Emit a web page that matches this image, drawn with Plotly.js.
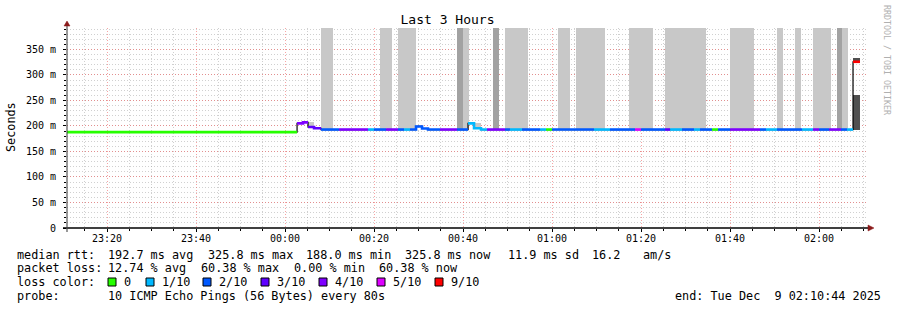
<!DOCTYPE html>
<html><head><meta charset="utf-8">
<script src="https://cdn.plot.ly/plotly-3.0.1.min.js"></script>
<style>html,body{margin:0;padding:0;background:#fff}#chart{width:897px;height:310px}</style>
</head><body><div id="chart"></div>
<script>
// ---------------- data ----------------
const lossLabels = ['0', '1/10', '2/10', '3/10', '4/10', '5/10', '9/10'];
const lossColors = ['#26ff00', '#00b8ff', '#0059ff', '#5e00ff', '#7e00ff', '#dd00ff', '#ff0000'];

// median rtt, step segments; times in minutes relative to 2025-12-09 00:00
const medTime = [-49.0, 2.70, 4.04, 5.17, 6.52, 8.09, 12.13, 18.65, 20.00, 22.70,
  25.39, 26.74, 28.09, 29.44, 30.79, 32.13, 34.83, 38.65, 41.12, 42.47,
  44.04, 45.39, 49.44, 50.56, 53.26, 57.30, 58.65, 60.00, 69.44, 73.03,
  78.65, 80.00, 85.39, 86.52, 89.21, 91.91, 93.26, 95.96, 97.30, 100.00,
  106.74, 108.09, 110.56, 116.18, 118.65, 120.00, 122.25, 124.94, 126.29, 127.64,
  129.21];
const medRtt = [188.0, 205.0, 207.0, 198.0, 195.5, 193.0, 193.0, 193.0, 193.0, 193.0,
  193.0, 193.0, 193.0, 199.0, 195.0, 193.0, 193.0, 193.0, 205.0, 195.5,
  193.0, 193.0, 193.0, 193.0, 193.0, 193.0, 193.0, 193.0, 193.0, 193.0,
  193.0, 193.0, 193.0, 193.0, 193.0, 193.0, 193.0, 193.0, 193.0, 193.0,
  193.0, 193.0, 193.0, 193.0, 193.0, 193.0, 193.0, 193.0, 193.0, 325.8];
const medLoss = [0, 4, 4, 3, 3, 2, 4, 1, 2, 4,
  2, 1, 2, 2, 2, 2, 4, 2, 1, 1,
  1, 4, 2, 1, 2, 1, 0, 2, 1, 2,
  5, 2, 3, 1, 2, 1, 2, 0, 2, 4,
  2, 1, 2, 1, 4, 2, 4, 2, 1, 6];

// smoke (spread of the pings), minutes / ms
const smokeStart = [5.17, 8.09, 21.35, 25.39, 38.65, 40.00, 42.47, 46.67, 49.44, 61.35,
  65.39, 77.30, 85.39, 100.00, 110.56, 114.61, 118.65, 124.04, 125.17, 127.64, 127.64];
const smokeEnd = [6.52, 10.79, 24.04, 29.44, 40.00, 41.35, 44.04, 48.09, 54.61, 64.04,
  71.91, 82.70, 94.61, 105.39, 111.91, 115.96, 122.70, 125.17, 126.52, 129.21, 129.21];
const smokeLow = [198, 193, 193, 193, 193, 193, 196, 193, 193, 193,
  193, 193, 193, 193, 193, 193, 193, 193, 193, 193, 325.8];
const smokeHigh = [207, 400, 400, 400, 400, 400, 205, 400, 400, 400,
  400, 400, 400, 400, 400, 400, 400, 400, 400, 261, 333.5];
const smokeLevel = [0, 0, 0, 0, 1, 0, 0, 1, 0, 0,
  0, 0, 0, 0, 0, 0, 0, 1, 0, 2, 2];

const yTickVals = [0, 50, 100, 150, 200, 250, 300, 350];
const yTickText = ['0', '50 m', '100 m', '150 m', '200 m', '250 m', '300 m', '350 m'];

const rttStats = [192.7, 325.8, 188.0, 325.8];   // avg, max, min, now (ms)
const rttSd = 11.9;
const rttAmS = 16.2;
const lossStats = [12.74, 60.38, 0.00, 60.38];  // avg, max, min, now (%)
const probeText = '10 ICMP Echo Pings (56 Bytes) every 80s';
const endText = 'end: Tue Dec\u00a0 9 02:10:44 2025';

// ---------------- styles ----------------
const mono = 'DejaVu Sans Mono, monospace';
const smokeColors = ['#c8c8c8', '#a2a2a2', '#505050'];

function t(m) {
  const d = new Date(Date.UTC(2025, 11, 9) + Math.round(m * 60000));
  return d.toISOString().replace('T', ' ').slice(0, 19);
}

// plot area in pixels
const PL = 67, PR = 868, PT = 28, PB = 228, W = 897, H = 310;
const fx = px => (px - PL) / (PR - PL);
const fy = py => (PB - py) / (PB - PT);

const traces = [];

// smoke bars
traces.push({
  type: 'bar',
  x: smokeStart.map((s, i) => t((s + smokeEnd[i]) / 2)),
  width: smokeStart.map((s, i) => (smokeEnd[i] - s) * 60000),
  base: smokeLow,
  y: smokeHigh.map((h, i) => h - smokeLow[i]),
  marker: { color: smokeLevel.map(l => smokeColors[l]), line: { width: 0 } },
  showlegend: false, hoverinfo: 'skip'
});

// thin dark step line (shows verticals where colour changes)
traces.push({
  type: 'scatter', mode: 'lines',
  x: medTime.map(t),
  y: medRtt.concat([medRtt[medRtt.length - 1]]),
  line: { shape: 'hv', color: '#000', width: 1.2 },
  showlegend: false, hoverinfo: 'skip'
});

// coloured median per loss bucket
lossColors.forEach((c, k) => {
  const xs = [], ys = [];
  let i = 0;
  while (i < medRtt.length) {
    if (medLoss[i] !== k) { i++; continue; }
    let j = i;
    while (j < medRtt.length && medLoss[j] === k) {
      xs.push(t(medTime[j])); ys.push(medRtt[j]); j++;
    }
    xs.push(t(medTime[j])); ys.push(medRtt[j - 1]);
    xs.push(null); ys.push(null);
    i = j;
  }
  if (xs.length) traces.push({
    type: 'scatter', mode: 'lines', x: xs, y: ys,
    line: { shape: 'hv', color: c, width: 2.6 },
    connectgaps: false, showlegend: false, hoverinfo: 'skip'
  });
});

// ---------------- annotations ----------------
const ann = [];
function A(text, x, y, o) {
  ann.push(Object.assign({
    text: text, x: fx(x), y: fy(y), xref: 'paper', yref: 'paper',
    xanchor: 'left', yanchor: 'middle', showarrow: false, borderpad: 0,
    font: { family: mono, size: 11.8, color: '#000' }
  }, o || {}));
}
const sp = s => s.replace(/ /g, '\u00a0');

A('median rtt:', 16, 255);
const rttFields = [
  rttStats[0].toFixed(1) + ' ms avg', rttStats[1].toFixed(1) + ' ms max',
  rttStats[2].toFixed(1) + ' ms min', rttStats[3].toFixed(1) + ' ms now',
  rttSd.toFixed(1) + ' ms sd'];
const rttX = [107, 207, 305, 404, 507];
rttFields.forEach((f, i) => A(sp(f), rttX[i], 255));
A(rttAmS.toFixed(1), 591, 255);
A('am/s', 642, 255);

A('packet loss:', 16, 268);
const lossFields = [
  lossStats[0].toFixed(2) + ' % avg', lossStats[1].toFixed(2) + ' % max',
  lossStats[2].toFixed(2) + ' % min', lossStats[3].toFixed(2) + ' % now'];
const lossX = [107, 200, 293, 378];
lossFields.forEach((f, i) => A(sp(f), lossX[i], 268));

A('loss color:', 16, 282);
const sqX = [108, 146, 203, 261, 319, 377, 435];
const shapes = [];
lossLabels.forEach((l, i) => {
  shapes.push({
    type: 'rect', xref: 'paper', yref: 'paper',
    x0: fx(sqX[i]), x1: fx(sqX[i] + 8), y0: fy(286), y1: fy(278),
    fillcolor: lossColors[i], line: { color: '#000', width: 1 }
  });
  A(l, sqX[i] + 15, 282);
});

A('probe:', 16, 296);
A(probeText, 107, 296);
A(endText, 882, 296, { xanchor: 'right' });

A('Seconds', 11, 127, { xanchor: 'center', textangle: -90 });
A('RRDTOOL / TOBI OETIKER', 887, 60, { xanchor: 'center', textangle: 90,
  font: { family: mono, size: 8.3, color: '#b0b0b0' } });

// axis lines + arrows
const arrowC = '#8b1a1a';
shapes.push({ type: 'line', xref: 'paper', yref: 'paper', x0: fx(63), x1: fx(869), y0: fy(228), y1: fy(228), line: { color: '#000', width: 1.3 } });
shapes.push({ type: 'line', xref: 'paper', yref: 'paper', x0: fx(67), x1: fx(67), y0: fy(232), y1: fy(25), line: { color: '#444', width: 1.1 } });
shapes.push({ type: 'path', xref: 'paper', yref: 'paper', fillcolor: arrowC, line: { color: arrowC, width: 0.5 },
  path: `M ${fx(868)} ${fy(225)} L ${fx(874)} ${fy(228)} L ${fx(868)} ${fy(231)} Z` });
shapes.push({ type: 'path', xref: 'paper', yref: 'paper', fillcolor: arrowC, line: { color: arrowC, width: 0.5 },
  path: `M ${fx(64)} ${fy(26)} L ${fx(67)} ${fy(21)} L ${fx(70)} ${fy(26)} Z` });

const majorGrid = 'rgba(240,90,90,0.55)';
const minorGrid = 'rgba(150,150,150,0.45)';
const dash = '1px,2px';

const layout = {
  width: W, height: H, autosize: false,
  margin: { l: PL, r: W - PR, t: PT, b: H - PB, pad: 0 },
  paper_bgcolor: '#fff', plot_bgcolor: '#fff',
  barmode: 'overlay', bargap: 0,
  title: { text: 'Last 3 Hours', font: { family: mono, size: 13, color: '#000' },
    x: 0.4989, xanchor: 'center', xref: 'container', y: 1 - 19 / H, yanchor: 'middle', yref: 'container' },
  xaxis: {
    type: 'date', range: [t(-49.0), t(131.0)],
    tickformat: '%H:%M', tick0: t(-40), dtick: 20 * 60000,
    showgrid: true, gridcolor: majorGrid, griddash: dash, gridwidth: 1,
    ticks: 'outside', ticklen: 3, tickcolor: '#000', ticklabelstandoff: -2,
    tickfont: { family: mono, size: 10, color: '#000' },
    minor: { dtick: 5 * 60000, tick0: t(-40), showgrid: true, gridcolor: minorGrid, griddash: dash, gridwidth: 1,
      ticks: 'outside', ticklen: 2, tickcolor: '#000' },
    showline: false, zeroline: false, fixedrange: true
  },
  yaxis: {
    range: [0, 392], tickmode: 'array', tickvals: yTickVals, ticktext: yTickText,
    showgrid: true, gridcolor: majorGrid, griddash: dash, gridwidth: 1,
    ticks: 'outside', ticklen: 3, tickcolor: '#000', ticklabelstandoff: 5,
    tickfont: { family: mono, size: 10, color: '#000' },
    minor: { tickmode: 'linear', tick0: 0, dtick: 10, showgrid: true, gridcolor: minorGrid, griddash: dash, gridwidth: 1,
      ticks: 'outside', ticklen: 2, tickcolor: '#000' },
    showline: false, zeroline: false, fixedrange: true
  },
  annotations: ann,
  shapes: shapes,
  showlegend: false
};

Plotly.newPlot('chart', traces, layout, { staticPlot: true, displayModeBar: false });
</script>
</body></html>
